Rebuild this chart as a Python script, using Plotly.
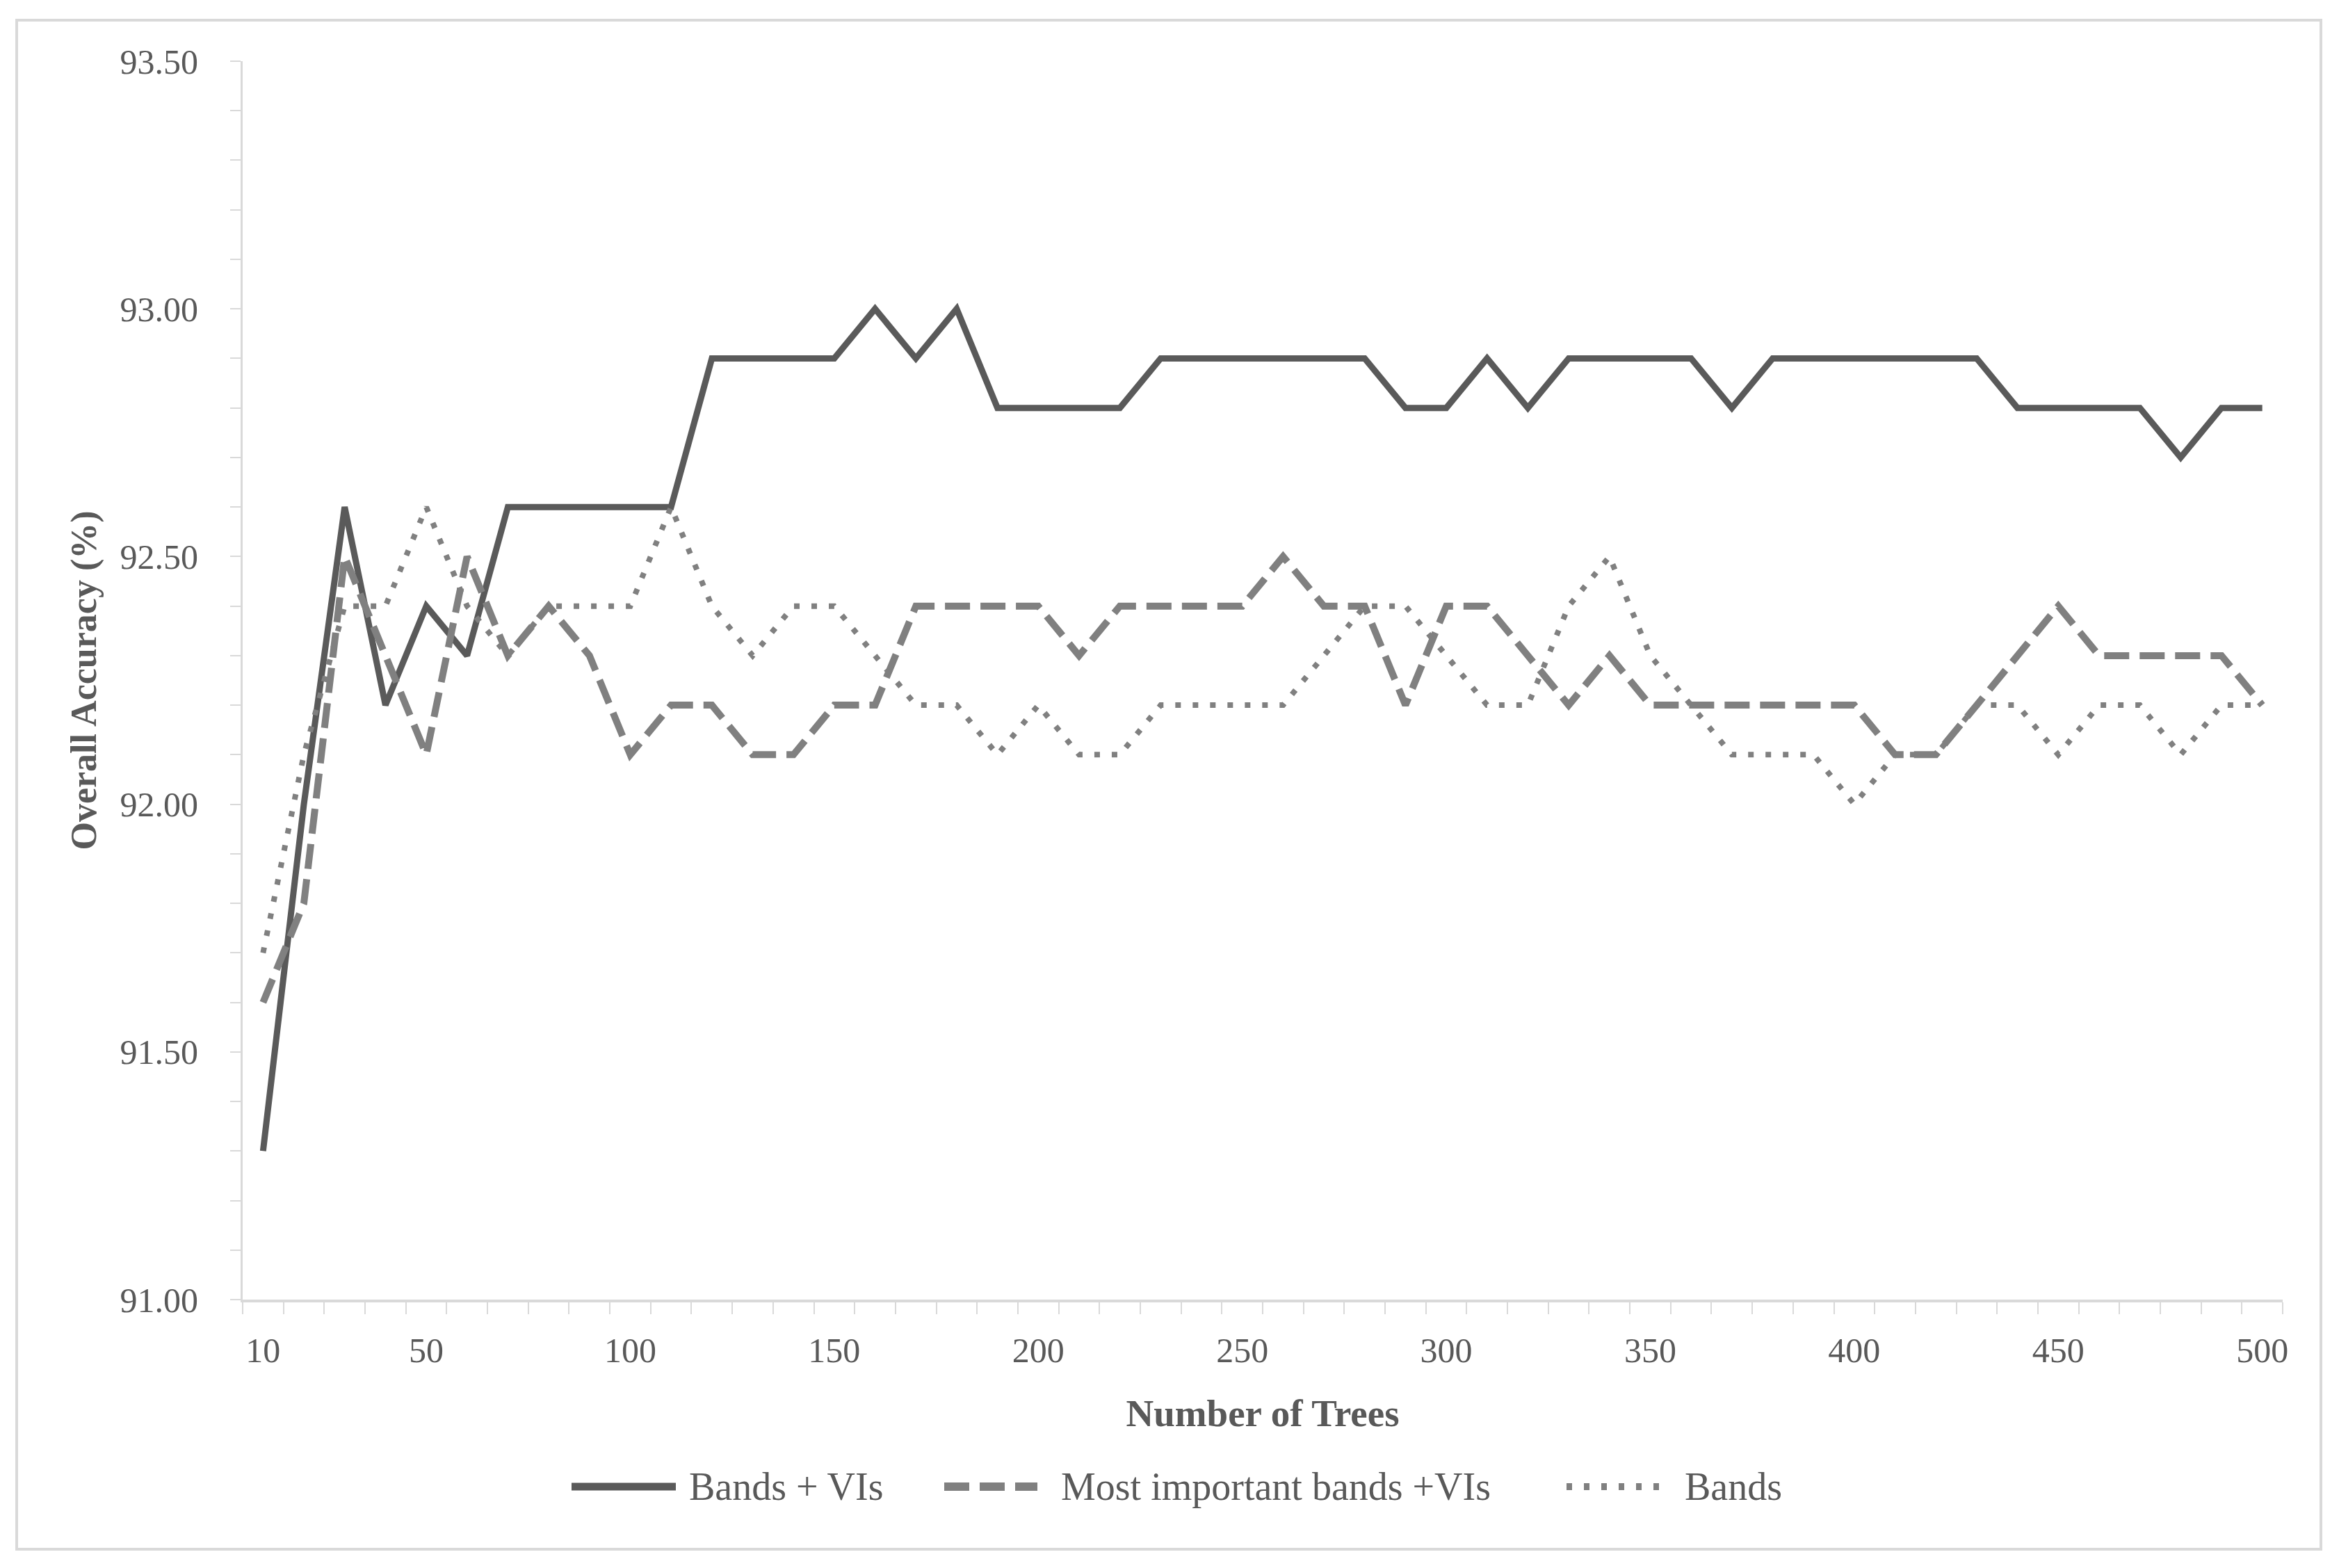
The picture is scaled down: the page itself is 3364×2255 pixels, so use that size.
import plotly.graph_objects as go

# ---------------- data ----------------
trees = list(range(10, 501, 10))

bands_vis = [91.3, 92.0, 92.6, 92.2, 92.4, 92.3, 92.6, 92.6, 92.6, 92.6,
             92.6, 92.9, 92.9, 92.9, 92.9, 93.0, 92.9, 93.0, 92.8, 92.8,
             92.8, 92.8, 92.9, 92.9, 92.9, 92.9, 92.9, 92.9, 92.8, 92.8,
             92.9, 92.8, 92.9, 92.9, 92.9, 92.9, 92.8, 92.9, 92.9, 92.9,
             92.9, 92.9, 92.9, 92.8, 92.8, 92.8, 92.8, 92.7, 92.8, 92.8]

most_important = [91.6, 91.8, 92.5, 92.3, 92.1, 92.5, 92.3, 92.4, 92.3, 92.1,
                  92.2, 92.2, 92.1, 92.1, 92.2, 92.2, 92.4, 92.4, 92.4, 92.4,
                  92.3, 92.4, 92.4, 92.4, 92.4, 92.5, 92.4, 92.4, 92.2, 92.4,
                  92.4, 92.3, 92.2, 92.3, 92.2, 92.2, 92.2, 92.2, 92.2, 92.2,
                  92.1, 92.1, 92.2, 92.3, 92.4, 92.3, 92.3, 92.3, 92.3, 92.2]

bands = [91.7, 92.1, 92.4, 92.4, 92.6, 92.4, 92.3, 92.4, 92.4, 92.4,
         92.6, 92.4, 92.3, 92.4, 92.4, 92.3, 92.2, 92.2, 92.1, 92.2,
         92.1, 92.1, 92.2, 92.2, 92.2, 92.2, 92.3, 92.4, 92.4, 92.3,
         92.2, 92.2, 92.4, 92.5, 92.3, 92.2, 92.1, 92.1, 92.1, 92.0,
         92.1, 92.1, 92.2, 92.2, 92.1, 92.2, 92.2, 92.1, 92.2, 92.2]

series_names = ["Bands + VIs", "Most important bands +VIs", "Bands"]
x_tick_labels = ["10", "50", "100", "150", "200", "250", "300", "350", "400", "450", "500"]
y_tick_values = [91.0, 91.5, 92.0, 92.5, 93.0, 93.5]

# ---------------- styling ----------------
FONT = "Liberation Serif"
TXT = "#595959"
AX = "#d9d9d9"
styles = [
    dict(color="#5a5a5a", width=9, dash="solid"),
    dict(color="#808080", width=10, dash="36px,15px"),
    dict(color="#808080", width=8, dash="8px,17px"),
]

OFF = 8  # page body margin offset
W, H = 3364 - OFF, 2255 - OFF
L, R, T, B = 349 - OFF, 81, 88 - OFF, 386
PW, PH = W - L - R, H - T - B


def px2paper_x(px):
    return (px - OFF - L) / PW


def px2paper_y(py):
    return (H - B - (py - OFF)) / PH


fig = go.Figure()
for name, ys, st in zip(series_names, [bands_vis, most_important, bands], styles):
    fig.add_trace(go.Scatter(x=trees, y=ys, mode="lines", name=name,
                             line=st, showlegend=False))

fig.update_layout(
    width=W, height=H,
    margin=dict(l=L, r=R, t=T, b=B, pad=0, autoexpand=False),
    paper_bgcolor="white", plot_bgcolor="white",
    font=dict(family=FONT, color=TXT, size=50),
    showlegend=False,
)

fig.update_xaxes(
    automargin=False,
    range=[5, 505],
    tickmode="array",
    tickvals=[int(v) for v in x_tick_labels],
    ticktext=x_tick_labels,
    ticks="",
    ticklabelstandoff=26,
    tickfont=dict(size=50, color=TXT, family=FONT),
    minor=dict(ticks="outside", tickmode="linear", tick0=5, dtick=10,
               ticklen=17, tickwidth=2, tickcolor=AX, showgrid=False),
    showline=True, linecolor=AX, linewidth=4,
    showgrid=False, zeroline=False,
    title=dict(text="<b>Number of Trees</b>", font=dict(size=55, color=TXT, family=FONT),
               standoff=44),
)

fig.update_yaxes(
    automargin=False,
    range=[91.0, 93.5],
    tickmode="array",
    tickvals=y_tick_values,
    ticktext=[f"{v:.2f}" for v in y_tick_values],
    ticks="outside", ticklen=15, tickwidth=2, tickcolor=AX,
    ticklabelstandoff=36,
    tickfont=dict(size=50, color=TXT, family=FONT),
    minor=dict(ticks="outside", tickmode="linear", tick0=91.0, dtick=0.1,
               ticklen=15, tickwidth=2, tickcolor=AX, showgrid=False),
    showline=True, linecolor=AX, linewidth=3,
    showgrid=False, zeroline=False,
    title=dict(text="<b>Overall Accuracy (%)</b>", font=dict(size=52, color=TXT, family=FONT),
               standoff=18),
)

# outer chart border
fig.add_shape(type="rect", xref="paper", yref="paper",
              x0=px2paper_x(24), x1=px2paper_x(3338),
              y0=px2paper_y(2228), y1=px2paper_y(29),
              line=dict(color=AX, width=4), fillcolor="rgba(0,0,0,0)", layer="below")

# custom legend
legend_y = px2paper_y(2138)
legend_items = [
    (822, 972, 989),
    (1358, 1492, 1524),
    (2253, 2389, 2421),
]
for (x0, x1, xt), name, st in zip(legend_items, series_names, styles):
    fig.add_shape(type="line", xref="paper", yref="paper",
                  x0=px2paper_x(x0), x1=px2paper_x(x1), y0=legend_y, y1=legend_y,
                  line=dict(color=st["color"], width=st["width"] + 2, dash=st["dash"]))
    fig.add_annotation(xref="paper", yref="paper", x=px2paper_x(xt), y=legend_y,
                       text=name, showarrow=False, xanchor="left", yanchor="middle",
                       font=dict(size=56, color=TXT, family=FONT))

fig.write_html("out.html")
